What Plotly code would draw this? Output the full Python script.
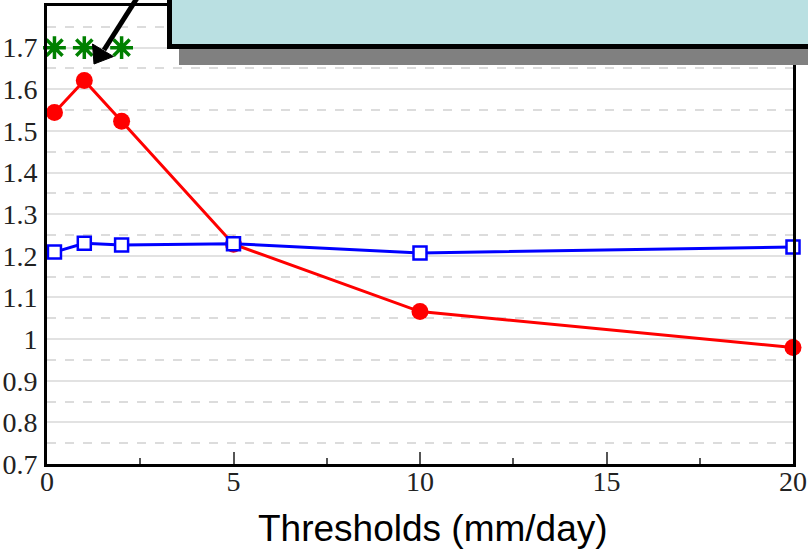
import plotly.graph_objects as go

# Data
thresholds = [0.2, 1, 2, 5, 10, 20]
red_values = [1.544, 1.621, 1.523, 1.228, 1.066, 0.980]
blue_values = [1.209, 1.230, 1.226, 1.229, 1.207, 1.221]
star_x = [0.2, 1, 2]
star_y = [1.7, 1.7, 1.7]
y_tickvals = [0.7, 0.8, 0.9, 1.0, 1.1, 1.2, 1.3, 1.4, 1.5, 1.6, 1.7]
y_ticktext = ["0.7", "0.8", "0.9", "1", "1.1", "1.2", "1.3", "1.4", "1.5", "1.6", "1.7"]
x_tickvals = [0, 5, 10, 15, 20]
x_ticktext = ["0", "5", "10", "15", "20"]
x_title = "Thresholds (mm/day)"

W, H = 808, 551
L, R, T, B = 47, 15, 6, 87
pw, ph = W - L - R, H - T - B


def px2x(px):
    return (px - L) / pw


def px2y(py):
    return (H - B - py) / ph


SERIF = "'Liberation Serif', 'DejaVu Serif', serif"

fig = go.Figure()
fig.add_trace(go.Scatter(
    x=thresholds, y=red_values, mode="lines+markers",
    line=dict(color="#ff0000", width=3),
    marker=dict(symbol="circle", size=17, color="#ff0000"),
    cliponaxis=False, showlegend=False))
fig.add_trace(go.Scatter(
    x=thresholds, y=blue_values, mode="lines+markers",
    line=dict(color="#0000ff", width=3),
    marker=dict(symbol="square", size=13, color="white",
                line=dict(color="#0000ff", width=2.5)),
    cliponaxis=False, showlegend=False))
fig.add_trace(go.Scatter(
    x=star_x, y=star_y, mode="markers",
    marker=dict(symbol="asterisk-open", size=19, color="#008000",
                line=dict(color="#008000", width=3.5)),
    cliponaxis=False, showlegend=False))

# shadow and box
fig.add_shape(type="rect", xref="paper", yref="paper",
              x0=px2x(179), x1=px2x(830), y0=px2y(65), y1=px2y(40),
              fillcolor="#808080", line=dict(width=0), layer="above")
fig.add_shape(type="rect", xref="paper", yref="paper",
              x0=px2x(169.5), x1=px2x(840), y0=px2y(46.5), y1=px2y(-30),
              fillcolor="#bae0e2", line=dict(color="black", width=5), layer="above")

# arrow (line + head)
fig.add_shape(type="line", xref="paper", yref="paper",
              x0=px2x(139), y0=px2y(-5), x1=px2x(104), y1=px2y(50),
              line=dict(color="black", width=5), layer="above")
head = "M {},{} L {},{} L {},{} Z".format(
    px2x(94), px2y(64), px2x(92.5), px2y(44), px2x(113.5), px2y(56.5))
fig.add_shape(type="path", xref="paper", yref="paper", path=head,
              fillcolor="black", line=dict(color="black", width=1), layer="above")

# x title
fig.add_annotation(x=px2x(433), y=px2y(528), xref="paper", yref="paper",
                   text=x_title, showarrow=False, xanchor="center", yanchor="middle",
                   font=dict(family="Liberation Sans, Arial", size=37, color="black"))

fig.update_layout(
    width=W, height=H,
    margin=dict(l=L, r=R, t=T, b=B, pad=0, autoexpand=False),
    paper_bgcolor="white", plot_bgcolor="white",
    xaxis=dict(range=[0, 20], tickvals=x_tickvals, ticktext=x_ticktext,
               automargin=False,
               showgrid=False, zeroline=False,
               showline=True, linecolor="black", linewidth=3, mirror=True,
               ticks="inside", ticklen=12, tickwidth=1.5, tickcolor="#555",
               ticklabelstandoff=-10,
               tickfont=dict(family=SERIF, size=28, color="#222"),
               minor=dict(tickvals=[2.5, 7.5, 12.5, 17.5], ticks="inside",
                          ticklen=6, tickwidth=1.5, tickcolor="#555", showgrid=False)),
    yaxis=dict(range=[0.7, 1.8], tickvals=y_tickvals, ticktext=y_ticktext,
               automargin=False,
               showgrid=True, gridcolor="#e2e2e2", gridwidth=2, zeroline=False,
               showline=True, linecolor="black", linewidth=3, mirror=True,
               ticks="", ticklabelstandoff=1,
               tickfont=dict(family=SERIF, size=28, color="#222"),
               minor=dict(tickvals=[0.75, 0.85, 0.95, 1.05, 1.15, 1.25, 1.35, 1.45,
                                    1.55, 1.65, 1.75],
                          ticks="", showgrid=True, gridcolor="#dcdcdc",
                          gridwidth=1.5, griddash="dash")),
)

fig.write_html("out.html")
